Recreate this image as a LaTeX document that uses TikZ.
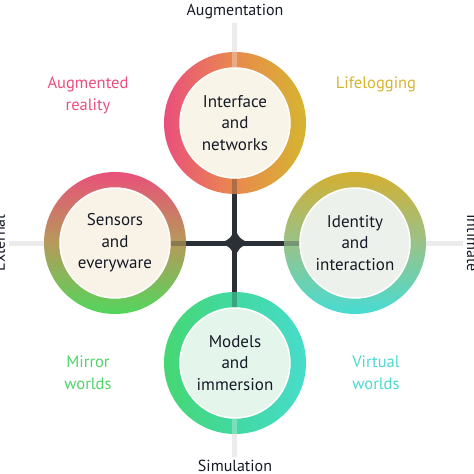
\documentclass[tikz,border=0pt]{standalone}
\usepackage{fontspec}
\setmainfont{PT Sans}
\usepackage{xcolor}
\usetikzlibrary{positioning}

\definecolor{inkdark}{HTML}{161A26}
\definecolor{hubdark}{HTML}{2A3036}
\definecolor{arpink}{HTML}{E94F7C}
\definecolor{lifegold}{HTML}{D5B52F}
\definecolor{mirrorgreen}{HTML}{4FD46A}
\definecolor{virtualcyan}{HTML}{4DD8D0}

\begin{document}
\begin{tikzpicture}[x=1pt, y=1pt, font=\fontsize{16}{21}\selectfont,
  ring/.style={circle, minimum size=142pt, inner sep=0pt},
  core/.style={circle, draw=white, line width=1.5pt, minimum size=110pt, inner sep=0pt, align=center, text=inkdark, font=\fontsize{17}{21.5}\selectfont},
  spoke/.style={line width=5pt, hubdark},
  axisline/.style={line width=5pt, black!8},
  quad/.style={align=center, font=\fontsize{16.5}{22}\selectfont},
  pole/.style={text=inkdark}]
  \useasboundingbox (-235,-231) rectangle (239,243);

  \coordinate (hub) at (0,0);

  % poles
  \node[pole] (augm) at (0,231) {Augmentation};
  \node[pole] (simu) at (0,-223) {Simulation};
  \node[pole, rotate=90, anchor=base] (ext) at (-230,0) {External};
  \node[pole, rotate=-90, anchor=base] (inti) at (232,0) {Intimate};

  % coloured rings
  \node[ring, left color=arpink, right color=lifegold, middle color={rgb,255:red,233;green,138;blue,77}] (topring) at (0,120) {};
  \node[ring, top color={rgb,255:red,233;green,80;blue,122}, bottom color={rgb,255:red,82;green,214;blue,92}, middle color={rgb,255:red,181;green,154;blue,90}] (leftring) at (-120,0) {};
  \node[ring, top color={rgb,255:red,211;green,175;blue,49}, bottom color={rgb,255:red,71;green,220;blue,210}, middle color={rgb,255:red,152;green,194;blue,138}] (rightring) at (120,0) {};
  \node[ring, left color={rgb,255:red,69;green,215;blue,115}, right color={rgb,255:red,72;green,220;blue,203}, middle color={rgb,255:red,66;green,217;blue,162}] (botring) at (0,-120) {};

  % axes
  \draw[axisline] (augm) -- (topring);
  \draw[axisline] (simu) -- (botring);
  \draw[axisline] (ext) -- (leftring);
  \draw[axisline] (inti) -- (rightring);

  % cross
  \draw[spoke] (hub) -- (topring);
  \draw[spoke] (hub) -- (botring);
  \draw[spoke] (hub) -- (leftring);
  \draw[spoke] (hub) -- (rightring);
  \fill[hubdark] (14,0) .. controls (4.5,4.5) .. (0,14) .. controls (-4.5,4.5) .. (-14,0)
    .. controls (-4.5,-4.5) .. (0,-14) .. controls (4.5,-4.5) .. (14,0) -- cycle;

  % centres
  \node[core, fill={rgb,255:red,248;green,244;blue,231}] (top) at (topring) {Interface\\and\\networks};
  \node[core, fill={rgb,255:red,248;green,243;blue,230}] (left) at (leftring) {Sensors\\and\\everyware};
  \node[core, fill={rgb,255:red,237;green,241;blue,236}] (right) at (rightring) {Identity\\and\\interaction};
  \node[core, fill={rgb,255:red,228;green,246;blue,236}] (bot) at (botring) {Models\\and\\immersion};

  % lines showing through the rings
  \draw[spoke, draw opacity=.3] (topring.south) -- (top.south);
  \draw[spoke, draw opacity=.3] (botring.north) -- (bot.north);
  \draw[spoke, draw opacity=.3] (leftring.east) -- (left.east);
  \draw[spoke, draw opacity=.3] (rightring.west) -- (right.west);
  \draw[axisline, draw opacity=.35] (topring.north) -- (top.north);
  \draw[axisline, draw opacity=.35] (botring.south) -- (bot.south);

  % quadrants
  \node[quad, text=arpink] (ar) at (-147,148) {Augmented\\reality};
  \node[quad, text=lifegold] (life) at (141,159) {Lifelogging};
  \node[quad, text=mirrorgreen] (mirror) at (-147,-130) {Mirror\\worlds};
  \node[quad, text=virtualcyan] (virtual) at (141,-130) {Virtual\\worlds};
\end{tikzpicture}
\end{document}
